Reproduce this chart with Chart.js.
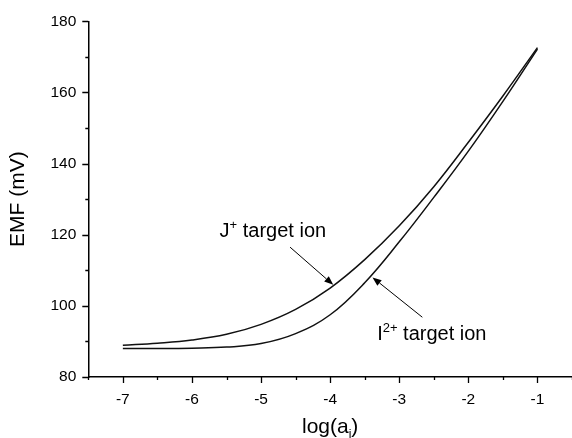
<!DOCTYPE html>
<html>
<head>
<meta charset="utf-8">
<script src="https://cdn.jsdelivr.net/npm/chart.js@4.4.1/dist/chart.umd.min.js"></script>
<style>body{margin:0;background:#fff}</style>
</head>
<body>
<canvas id="emfChart" width="572" height="438"></canvas>
<script>
const logActivity = [-7, -6.5, -6, -5.5, -5, -4.5, -4, -3.5, -3, -2.5, -2, -1.5, -1];
// EMF (mV) for the two target ions
const emfJ = [88.9, 89.5, 90.4, 92.0, 94.8, 99.0, 105, 113, 122.5, 133.5, 146, 159, 172.6];
const emfI = [88.0, 88.0, 88.1, 88.4, 89.4, 92.2, 97.5, 106.5, 118, 130.5, 143.5, 157.5, 172.2];

const xTickLabels = [-7, -6, -5, -4, -3, -2, -1];
const xMinorTicks = [-7.5, -6.5, -5.5, -4.5, -3.5, -2.5, -1.5, -0.5];
const yTickLabels = [80, 100, 120, 140, 160, 180];
const yMinorTicks = [90, 110, 130, 150, 170];

const FONT = "'Liberation Sans', Arial, Helvetica, sans-serif";

// labels with arrows, in data coordinates
const notes = [
  { base: "J", sup: "+", rest: " target ion", x: -5.6, y: 119.3,
    from: [-4.58, 116.5], to: [-3.955, 105.9] },
  { base: "I", sup: "2+", rest: " target ion", x: -3.32, y: 90.3,
    from: [-2.666, 96.8], to: [-3.387, 108.0] }
];

const toPoints = (xs, ys) => xs.map((x, i) => ({ x: x, y: ys[i] }));

const extrasPlugin = {
  id: "extras",
  afterDraw(chart) {
    const ctx = chart.ctx;
    const xs = chart.scales.x;
    const ys = chart.scales.y;
    const area = chart.chartArea;
    ctx.save();
    ctx.strokeStyle = "#000";
    ctx.fillStyle = "#000";

    // tick marks (major and minor), outward
    ctx.lineWidth = 1.3;
    ctx.beginPath();
    xTickLabels.concat(xMinorTicks).forEach((v) => {
      const px = Math.round(xs.getPixelForValue(v)) + 0.5;
      const len = xTickLabels.includes(v) ? 6 : 3;
      ctx.moveTo(px, area.bottom);
      ctx.lineTo(px, area.bottom + len);
    });
    yTickLabels.concat(yMinorTicks).forEach((v) => {
      const py = Math.round(ys.getPixelForValue(v)) + 0.5;
      const len = yTickLabels.includes(v) ? 6 : 3;
      ctx.moveTo(area.left, py);
      ctx.lineTo(area.left - len, py);
    });
    ctx.stroke();

    // x axis title with subscript
    ctx.textBaseline = "alphabetic";
    const main = "log(a";
    ctx.font = "21px " + FONT;
    const w1 = ctx.measureText(main).width;
    ctx.font = "12px " + FONT;
    const w2 = ctx.measureText("i").width;
    ctx.font = "21px " + FONT;
    const w3 = ctx.measureText(")").width;
    const cx = (area.left + area.right) / 2;
    const tx = cx - (w1 + w2 + w3) / 2;
    const ty = 432.5;
    ctx.fillText(main, tx, ty);
    ctx.font = "12px " + FONT;
    ctx.fillText("i", tx + w1, ty + 5);
    ctx.font = "21px " + FONT;
    ctx.fillText(")", tx + w1 + w2, ty);

    // annotations
    notes.forEach((n) => {
      let px = xs.getPixelForValue(n.x);
      const py = ys.getPixelForValue(n.y);
      ctx.font = "20px " + FONT;
      ctx.fillText(n.base, px, py);
      px += ctx.measureText(n.base).width;
      ctx.font = "13px " + FONT;
      ctx.fillText(n.sup, px, py - 8);
      px += ctx.measureText(n.sup).width;
      ctx.font = "20px " + FONT;
      ctx.fillText(n.rest, px, py);

      const x0 = xs.getPixelForValue(n.from[0]);
      const y0 = ys.getPixelForValue(n.from[1]);
      const x1 = xs.getPixelForValue(n.to[0]);
      const y1 = ys.getPixelForValue(n.to[1]);
      const ang = Math.atan2(y1 - y0, x1 - x0);
      const head = 9;
      const half = 3.5;
      const bx = x1 - head * Math.cos(ang);
      const by = y1 - head * Math.sin(ang);
      ctx.lineWidth = 1;
      ctx.beginPath();
      ctx.moveTo(x0, y0);
      ctx.lineTo(bx, by);
      ctx.stroke();
      ctx.beginPath();
      ctx.moveTo(x1, y1);
      ctx.lineTo(bx + half * Math.sin(ang), by - half * Math.cos(ang));
      ctx.lineTo(bx - half * Math.sin(ang), by + half * Math.cos(ang));
      ctx.closePath();
      ctx.fill();
    });
    ctx.restore();
  }
};

Chart.defaults.color = "#000";
Chart.defaults.font.family = FONT;

new Chart(document.getElementById("emfChart"), {
  type: "scatter",
  data: {
    datasets: [
      {
        label: "J+ target ion",
        data: toPoints(logActivity, emfJ),
        showLine: true,
        borderColor: "#111",
        borderWidth: 1.5,
        pointRadius: 0,
        tension: 0.4
      },
      {
        label: "I2+ target ion",
        data: toPoints(logActivity, emfI),
        showLine: true,
        borderColor: "#111",
        borderWidth: 1.5,
        pointRadius: 0,
        tension: 0.4
      }
    ]
  },
  options: {
    responsive: false,
    animation: false,
    layout: { padding: { top: 18.7, right: 0, bottom: 0, left: 0 } },
    plugins: {
      legend: { display: false },
      tooltip: { enabled: false }
    },
    scales: {
      x: {
        type: "linear",
        min: -7.5,
        max: -0.5,
        afterBuildTicks: (scale) => {
          scale.ticks = xTickLabels.map((v) => ({ value: v }));
        },
        afterFit: (scale) => { scale.height = 61; },
        grid: { display: false, drawTicks: false },
        border: { display: true, color: "#000", width: 1.5 },
        ticks: { font: { size: 15.5 }, padding: 13, maxRotation: 0, autoSkip: false }
      },
      y: {
        type: "linear",
        min: 80,
        max: 180,
        afterBuildTicks: (scale) => {
          scale.ticks = yTickLabels.map((v) => ({ value: v }));
        },
        afterFit: (scale) => { scale.width = 88.3; },
        grid: { display: false, drawTicks: false },
        border: { display: true, color: "#000", width: 1.5 },
        ticks: { font: { size: 15.5 }, padding: 12 },
        title: {
          display: true,
          text: "EMF (mV)",
          font: { size: 21 },
          padding: { top: 6, bottom: 0 }
        }
      }
    }
  },
  plugins: [extrasPlugin]
});
</script>
</body>
</html>
